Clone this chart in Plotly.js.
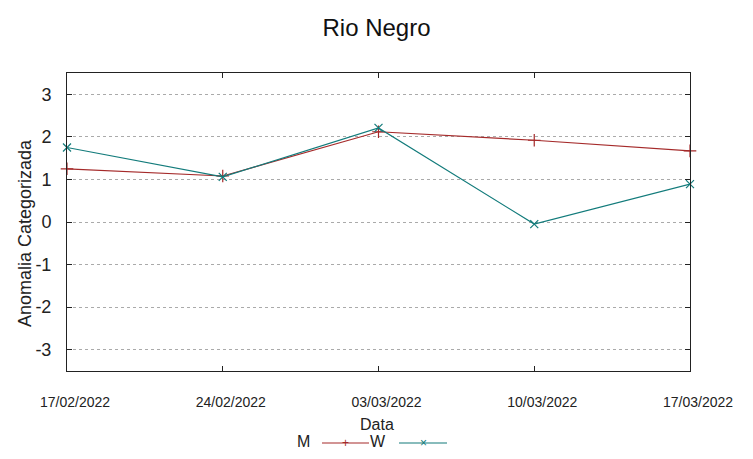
<!DOCTYPE html>
<html>
<head>
<meta charset="utf-8">
<script src="https://cdn.plot.ly/plotly-3.0.1.min.js"></script>
<style>html,body{margin:0;padding:0;background:#fff;}#chart{width:753px;height:459px;}</style>
</head>
<body>
<div id="chart"></div>
<script>
const dates = ["17/02/2022", "24/02/2022", "03/03/2022", "10/03/2022", "17/03/2022"];
const seriesM = [1.25, 1.08, 2.12, 1.92, 1.67];
const seriesW = [1.75, 1.06, 2.21, -0.05, 0.89];
const yTicks = [-3, -2, -1, 0, 1, 2, 3];

const red = "#a52a2a";
const teal = "#127b7b";
const font = "'Liberation Sans', Arial, sans-serif";
const px = v => (v - 67) / 623;
const py = v => (371 - v) / 298;

const traces = [
  {x: dates, y: seriesM, name: "M", type: "scatter", mode: "lines+markers",
   line: {color: red, width: 1.2},
   marker: {symbol: "cross-thin-open", size: 9, color: red, line: {color: red, width: 1.2}},
   cliponaxis: false},
  {x: dates, y: seriesW, name: "W", type: "scatter", mode: "lines+markers",
   line: {color: teal, width: 1.2},
   marker: {symbol: "x-thin-open", size: 8, color: teal, line: {color: teal, width: 1.2}},
   cliponaxis: false}
];

const layout = {
  width: 753, height: 459,
  margin: {l: 67, r: 63, t: 73, b: 88},
  paper_bgcolor: "#fff", plot_bgcolor: "#fff",
  showlegend: false,
  font: {family: font, color: "#222"},
  title: {text: "Rio Negro", x: 0.5, xanchor: "center", y: 0.94, yanchor: "middle",
          font: {size: 24, family: font, color: "#111"}},
  xaxis: {
    type: "category", range: [0, 4], tickvals: dates, ticktext: dates,
    showgrid: false, zeroline: false,
    showline: true, linecolor: "#222", linewidth: 1, mirror: "ticks",
    ticks: "inside", ticklen: 5, tickcolor: "#222",
    ticklabelstandoff: 18, ticklabelshift: 8,
    tickfont: {size: 14, family: font, color: "#222"}
  },
  yaxis: {
    range: [-3.5, 3.5], tickvals: yTicks, ticktext: yTicks.map(String),
    showgrid: true, gridcolor: "#aaaaaa", griddash: "dot", gridwidth: 1,
    zeroline: false,
    showline: true, linecolor: "#222", linewidth: 1, mirror: "ticks",
    ticks: "inside", ticklen: 5, tickcolor: "#222",
    ticklabelstandoff: 11,
    tickfont: {size: 18, family: font, color: "#222"}
  },
  shapes: [
    {type: "line", xref: "paper", yref: "paper", x0: px(322), x1: px(369),
     y0: py(443), y1: py(443), line: {color: red, width: 1.2}},
    {type: "line", xref: "paper", yref: "paper", x0: px(399), x1: px(447),
     y0: py(443), y1: py(443), line: {color: teal, width: 1.2}}
  ],
  annotations: [
    {text: "Data", xref: "paper", yref: "paper", x: px(377), y: py(424),
     showarrow: false, xanchor: "center", yanchor: "middle", font: {size: 16, family: font, color: "#222"}},
    {text: "Anomalia Categorizada", xref: "paper", yref: "paper", x: px(25), y: py(233), textangle: -90,
     showarrow: false, xanchor: "center", yanchor: "middle", font: {size: 18, family: font, color: "#222"}},
    {text: "M", xref: "paper", yref: "paper", x: px(303), y: py(441),
     showarrow: false, xanchor: "center", yanchor: "middle", font: {size: 16, family: font, color: "#222"}},
    {text: "W", xref: "paper", yref: "paper", x: px(378), y: py(441),
     showarrow: false, xanchor: "center", yanchor: "middle", font: {size: 16, family: font, color: "#222"}},
    {text: "+", xref: "paper", yref: "paper", x: px(345), y: py(443),
     showarrow: false, xanchor: "center", yanchor: "middle", font: {size: 12, family: font, color: red}},
    {text: "×", xref: "paper", yref: "paper", x: px(423), y: py(443),
     showarrow: false, xanchor: "center", yanchor: "middle", font: {size: 12, family: font, color: teal}}
  ]
};

Plotly.newPlot("chart", traces, layout, {displayModeBar: false, responsive: false});
</script>
</body>
</html>
